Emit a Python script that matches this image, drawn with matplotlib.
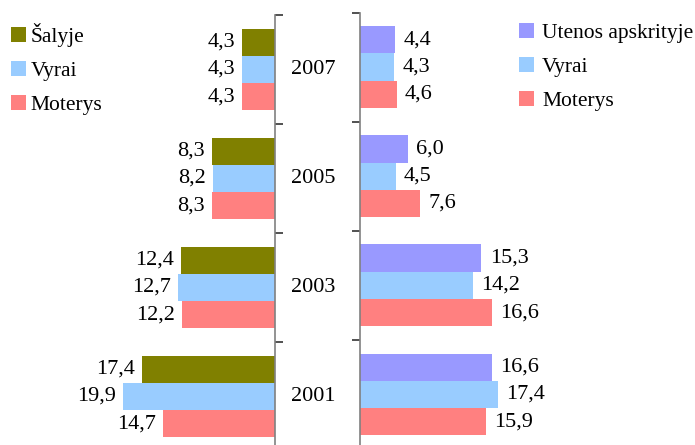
import matplotlib
matplotlib.use("Agg")
import matplotlib.pyplot as plt
import matplotlib.transforms as mtrans
import numpy as np

plt.rcParams['font.family'] = ['Liberation Serif', 'DejaVu Serif']

years = ['2007', '2005', '2003', '2001']
salyje = [4.3, 8.3, 12.4, 17.4]
salyje_vyrai = [4.3, 8.2, 12.7, 19.9]
salyje_moterys = [4.3, 8.3, 12.2, 14.7]
utena = [4.4, 6.0, 15.3, 16.6]
utena_vyrai = [4.3, 4.5, 14.2, 17.4]
utena_moterys = [4.6, 7.6, 16.6, 15.9]

c_olive = '#808000'
c_blue = '#99CCFF'
c_red = '#FF8080'
c_purple = '#9999FF'

W, H = 695, 445
fig = plt.figure(figsize=(W / 100, H / 100), dpi=100)

def px_axes(x0, y_top, x1, y_bot):
    # rectangle given in image pixels (y from the top)
    return fig.add_axes([x0 / W, 1 - y_bot / H, (x1 - x0) / W, (y_bot - y_top) / H])

ax_l = px_axes(0, 15, 275, 451)
ax_r = px_axes(360, 12.5, 695, 449)

ypos = np.arange(len(years))
bh = 0.25
fs = 16
fs_leg = 15.5

def fmt(v):
    return f'{v:.1f}'.replace('.', ',')

# left panel: bars grow to the left
left_series = [(salyje, c_olive, 'Šalyje'), (salyje_vyrai, c_blue, 'Vyrai'),
               (salyje_moterys, c_red, 'Moterys')]
for k, (vals, col, lab) in enumerate(left_series):
    bars = ax_l.barh(ypos + (k - 1) * bh, vals, height=bh, color=col, label=lab)
    for b, v in zip(bars, vals):
        ax_l.annotate(fmt(v), (b.get_width(), b.get_y() + bh / 2), xytext=(-5, 0),
                      textcoords='offset points', ha='right', va='center', fontsize=fs)
ax_l.set_xlim(275 / 7.62, 0)
ax_l.set_ylim(len(years) - 0.5, -0.5)

right_series = [(utena, c_purple, 'Utenos apskrityje'), (utena_vyrai, c_blue, 'Vyrai'),
                (utena_moterys, c_red, 'Moterys')]
for k, (vals, col, lab) in enumerate(right_series):
    bars = ax_r.barh(ypos + (k - 1) * bh, vals, height=bh, color=col, label=lab)
    for b, v in zip(bars, vals):
        ax_r.annotate(fmt(v), (b.get_width(), b.get_y() + bh / 2), xytext=(6, 0),
                      textcoords='offset points', ha='left', va='center', fontsize=fs)
ax_r.set_xlim(0, 335 / 7.94)
ax_r.set_ylim(len(years) - 0.5, -0.5)

for ax, side in ((ax_l, 'right'), (ax_r, 'left')):
    for s in ('top', 'bottom', 'left', 'right'):
        ax.spines[s].set_visible(s == side)
    ax.spines[side].set_color('#808080')
    ax.spines[side].set_linewidth(1.2)
    ax.set_xticks([])
    ax.set_yticks(np.arange(len(years) + 1) - 0.5)
    ax.set_yticklabels([])
    ax.yaxis.set_ticks_position(side)
    ax.tick_params(axis='y', direction='out', length=6, width=1.2, color='#333333')
    ax.patch.set_visible(False)

# year labels between the two panels
year_tr = mtrans.blended_transform_factory(fig.transFigure, ax_l.transData)
for y, yr in zip(ypos, years):
    ax_l.text(313 / W, y, yr, transform=year_tr, ha='center', va='center', fontsize=fs)

ax_l.legend(loc='upper left', bbox_to_anchor=(11 / W, 1 - 23 / H), bbox_transform=fig.transFigure,
            frameon=False, fontsize=fs_leg, handlelength=0.7, handleheight=0.7,
            handletextpad=0.2, labelspacing=0.65, borderpad=0, borderaxespad=0)
ax_r.legend(loc='upper left', bbox_to_anchor=(519 / W, 1 - 23 / H), bbox_transform=fig.transFigure,
            frameon=False, fontsize=fs_leg, handlelength=0.7, handleheight=0.7,
            handletextpad=0.38, labelspacing=0.65, borderpad=0, borderaxespad=0)

fig.savefig('out.png', dpi=100)
